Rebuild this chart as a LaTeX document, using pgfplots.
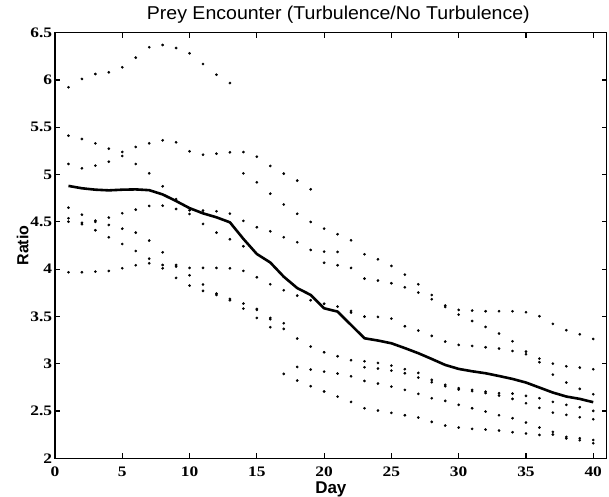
\documentclass[border=0pt]{standalone}
\usepackage{fontspec}
\usepackage{pgfplots}
\usepackage{pgfplotstable}
\pgfplotsset{compat=1.18}
\setmainfont{Liberation Serif}
\newfontfamily\tickfont[FakeStretch=1.2]{Liberation Serif}
\newfontfamily\titlefont[FakeStretch=1.05]{Liberation Sans}
\newfontfamily\labelfont{Liberation Sans}

\pgfplotstableread{
day r1 r2 r3 r4 r5 r6 r7 mean
1 5.923 5.411 5.112 4.650 4.538 4.502 3.967 4.880
2 6.011 5.376 5.066 4.576 4.490 4.475 3.967 4.855
3 6.063 5.330 5.094 4.513 4.500 4.411 3.974 4.840
4 6.081 5.274 5.136 4.545 4.467 4.337 3.981 4.833
5 6.134 5.239 5.196 4.591 4.428 4.266 4.009 4.840
6 6.236 5.292 5.112 4.629 4.386 4.192 4.041 4.843
7 6.346 5.330 5.013 4.668 4.302 4.111 4.062 4.835
8 6.370 5.362 4.876 4.671 4.178 4.044 4.009 4.790
9 6.338 5.341 4.740 4.636 4.044 4.027 3.907 4.720
10 6.282 5.246 4.622 4.583 4.013 3.935 3.826 4.645
11 6.169 5.210 4.619 4.478 4.013 3.837 3.770 4.590
12 6.056 5.221 4.612 4.386 4.013 3.741 3.727 4.548
13 5.968 5.235 4.587 4.316 4.009 3.685 3.671 4.495
14 5.238 5.013 4.510 4.242 3.981 3.636 3.583 4.320
15 5.189 4.918 4.443 3.914 3.579 3.569 3.484 4.160
16 5.091 4.798 4.400 3.840 3.484 3.470 3.386 4.070
17 5.010 4.684 4.337 3.777 3.428 3.368 2.892 3.920
18 4.936 4.585 4.284 3.720 3.266 2.966 2.822 3.800
19 4.844 4.499 4.203 3.671 3.181 2.938 2.762 3.727
20 4.428 4.185 4.067 3.634 3.121 2.917 2.706 3.586
21 4.369 4.182 4.041 3.604 3.079 2.896 2.652 3.551
22 4.305 4.013 3.558 3.541 3.037 2.867 2.596 3.410
23 4.157 3.900 3.498 3.026 2.963 2.818 2.529 3.269
24 4.104 3.879 3.495 3.008 2.949 2.790 2.505 3.245
25 4.034 3.851 3.477 2.980 2.927 2.758 2.480 3.216
26 3.942 3.808 3.396 2.942 2.899 2.723 2.455 3.165
27 3.840 3.752 3.350 2.903 2.853 2.681 2.431 3.111
28 3.727 3.682 3.294 2.829 2.804 2.635 2.385 3.050
29 3.615 3.600 3.234 2.776 2.762 2.607 2.346 2.987
30 3.569 3.519 3.199 2.741 2.727 2.565 2.325 2.945
31 3.562 3.452 3.188 2.723 2.710 2.529 2.311 2.920
32 3.555 3.389 3.174 2.705 2.690 2.494 2.304 2.899
33 3.555 3.319 3.160 2.688 2.663 2.455 2.293 2.870
34 3.555 3.237 3.135 2.684 2.628 2.424 2.276 2.839
35 3.544 3.128 3.100 2.660 2.582 2.378 2.262 2.801
36 3.502 3.054 3.016 2.635 2.533 2.325 2.247 2.748
37 3.421 3.001 2.885 2.596 2.483 2.279 2.251 2.695
38 3.354 2.973 2.801 2.565 2.459 2.226 2.210 2.653
39 3.311 2.959 2.734 2.540 2.434 2.212 2.191 2.628
40 3.262 2.942 2.677 2.501 2.413 2.194 2.159 2.593
}\data

\begin{document}
\begin{tikzpicture}
\begin{axis}[
  scale only axis,
  width=551.7bp, height=425.6bp,
  xmin=0, xmax=41, ymin=2, ymax=6.5,
  xtick={0,5,...,40},
  ytick={2,2.5,3,3.5,4,4.5,5,5.5,6,6.5},
  tick align=inside,
  major tick length=5bp,
  axis line style={line width=1.3bp, black},
  every tick/.style={line width=1.1bp, black},
  /pgf/number format/assume math mode=true,
  ticklabel style={font=\tickfont\bfseries\fontsize{14.5bp}{15bp}\selectfont},
  xticklabel style={anchor=base, yshift=-18.6bp, inner sep=0pt},
  yticklabel style={anchor=east, inner sep=0pt, xshift=-2.7bp},
  title={\titlefont\fontsize{18.6bp}{20bp}\selectfont Prey Encounter (Turbulence/No Turbulence)},
  title style={at={(axis description cs:0.5136,1.0181)}, anchor=base, inner sep=0pt},
  xlabel={\labelfont\bfseries\fontsize{17bp}{18bp}\selectfont Day},
  xlabel style={at={(axis description cs:0.5,-0.0822)}, anchor=base, inner sep=0pt},
  ylabel={\labelfont\bfseries\fontsize{16bp}{18bp}\selectfont Ratio},
  ylabel style={at={(axis description cs:-0.0484,0.5)}, anchor=base, rotate=0, inner sep=0pt},
]
\foreach \c in {r1,r2,r3,r4,r5,r6,r7}{
  \addplot[only marks, mark=*, mark size=1.15bp, black] table[x=day, y=\c] {\data};
}
\addplot[black, line width=2.6bp, line join=round] table[x=day, y=mean] {\data};
\end{axis}
\pgfresetboundingbox
\path[use as bounding box] ([shift={(-55bp,-38.7bp)}]current axis.south west) rectangle ([shift={(2.3bp,32.7bp)}]current axis.north east);
\end{tikzpicture}
\end{document}
